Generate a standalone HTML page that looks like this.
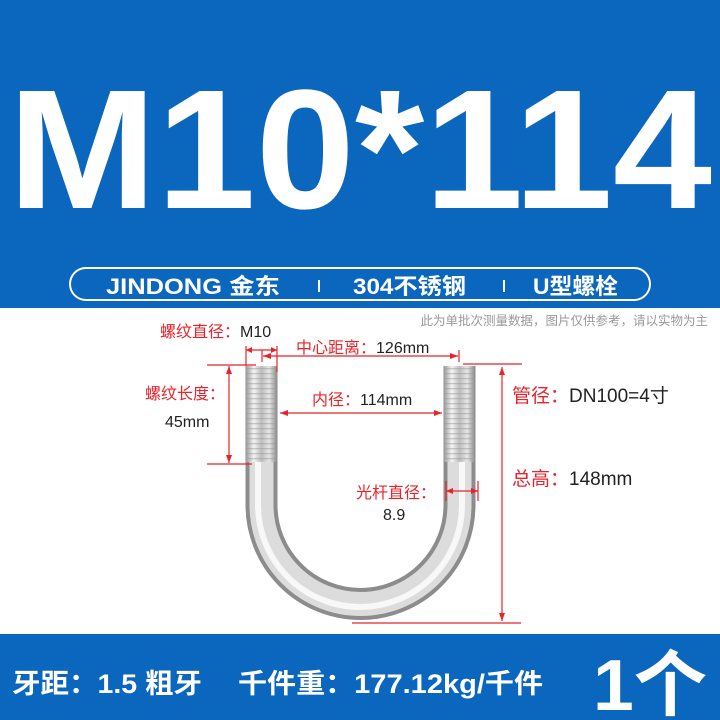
<!DOCTYPE html>
<html><head><meta charset="utf-8"><style>
html,body{margin:0;padding:0}
body{width:720px;height:720px;overflow:hidden;position:relative;background:#fff;font-family:"Liberation Sans","Noto Sans CJK SC",sans-serif}
</style></head><body>
<svg width="720" height="720" viewBox="0 0 720 720" xmlns="http://www.w3.org/2000/svg" style="position:absolute;left:0;top:0">
<defs>
<linearGradient id="rodL" x1="0" x2="1" y1="0" y2="0">
<stop offset="0" stop-color="#9a9a9a"/><stop offset="0.25" stop-color="#f4f4f4"/><stop offset="0.5" stop-color="#bdbdbd"/><stop offset="0.75" stop-color="#e6e6e6"/><stop offset="1" stop-color="#8a8a8a"/>
</linearGradient>
<pattern id="thr" width="4" height="5" patternUnits="userSpaceOnUse"><rect width="4" height="5" fill="none"/><rect y="3" width="4" height="1.3" fill="#9a9a9a" opacity="0.5"/></pattern>
</defs>
<rect x="0" y="0" width="720" height="308" fill="#0b66bd"/>
<rect x="0" y="634" width="720" height="86" fill="#0b66bd"/>
<text x="8" y="208" font-family="Liberation Sans, sans-serif" font-weight="bold" font-size="170" fill="#fff" textLength="704" lengthAdjust="spacingAndGlyphs">M10*114</text>
<rect x="70" y="268" width="580" height="32" rx="16" fill="none" stroke="#fff" stroke-width="2"/>
<g fill="#fff" font-weight="bold" font-size="22" font-family="Liberation Sans, Noto Sans CJK SC, sans-serif">
<text x="106" y="294" textLength="174" lengthAdjust="spacingAndGlyphs">JINDONG 金东</text>
<text x="353" y="294" textLength="113" lengthAdjust="spacingAndGlyphs">304不锈钢</text>
<text x="533" y="294" textLength="85" lengthAdjust="spacingAndGlyphs">U型螺栓</text>
</g>
<rect x="318" y="280" width="2" height="12" fill="#fff"/><rect x="503" y="280" width="2" height="12" fill="#fff"/>
<text x="708" y="325" font-size="12.5" fill="#999" text-anchor="end" font-family="Noto Sans CJK SC, sans-serif">此为单批次测量数据，图片仅供参考，请以实物为主</text>
<path d="M261.5 366 L261.5 505 A98.5 98.5 0 0 0 459.5 505 L459.5 366" fill="none" stroke="#8c8c8c" stroke-width="32"/>
<path d="M261.5 366 L261.5 505 A98.5 98.5 0 0 0 459.5 505 L459.5 366" fill="none" stroke="#dcdcdc" stroke-width="24"/>
<path d="M258 366 L258 505 A102 102 0 0 0 462 505 L462 366" fill="none" stroke="#f8f8f8" stroke-width="6"/>
<rect x="246" y="366" width="31" height="96" fill="url(#rodL)"/>
<rect x="246" y="366" width="31" height="96" fill="url(#thr)"/>
<rect x="444" y="366" width="31" height="96" fill="url(#rodL)"/>
<rect x="444" y="366" width="31" height="96" fill="url(#thr)"/>
<g stroke="#e8232a" stroke-width="1.2" fill="none">
<line x1="246" y1="346" x2="246" y2="366"/><line x1="277" y1="346" x2="277" y2="372"/>
<line x1="246" y1="350" x2="277" y2="350"/>
<line x1="263" y1="356" x2="458" y2="356"/><line x1="262" y1="350" x2="262" y2="362"/><line x1="459" y1="350" x2="459" y2="362"/>
<line x1="207" y1="365" x2="256" y2="365"/><line x1="207" y1="464" x2="252" y2="464"/>
<line x1="229" y1="366" x2="229" y2="463"/>
<line x1="280" y1="413" x2="442" y2="413"/>
<line x1="463" y1="364" x2="522" y2="364"/>
<line x1="502" y1="367" x2="502" y2="621"/>
<line x1="352" y1="623" x2="521" y2="623"/>
<line x1="446" y1="481" x2="446" y2="501"/><line x1="478" y1="481" x2="478" y2="501"/>
<line x1="446" y1="491" x2="478" y2="491"/>
</g>
<g fill="#e8232a">
<path d="M229 366 l-3 8 h6z"/><path d="M229 463 l-3 -8 h6z"/>
<path d="M280 413 l8 -3 v6z"/><path d="M442 413 l-8 -3 v6z"/>
<path d="M502 367 l-3 8 h6z"/><path d="M502 621 l-3 -8 h6z"/>
<path d="M263 356 l8 -3 v6z"/><path d="M458 356 l-8 -3 v6z"/>
<path d="M446 491 l7 -3 v6z"/><path d="M478 491 l-7 -3 v6z"/>
<path d="M246 350 l6 -3 v6z"/><path d="M277 350 l-6 -3 v6z"/>
</g>
<g font-size="16" font-family="Liberation Sans, Noto Sans CJK SC, sans-serif">
<text x="160" y="337" fill="#e8232a">螺纹直径：<tspan fill="#222">M10</tspan></text>
<text x="296" y="353" fill="#e8232a">中心距离：<tspan fill="#222">126mm</tspan></text>
<text x="145" y="399" fill="#e8232a">螺纹长度：</text>
<text x="165" y="427" fill="#222">45mm</text>
<text x="312" y="405" fill="#e8232a">内径：<tspan fill="#222">114mm</tspan></text>
<text x="356" y="498" fill="#e8232a">光杆直径：</text>
<text x="383" y="520" fill="#222">8.9</text>
</g>
<g font-size="19" font-family="Liberation Sans, Noto Sans CJK SC, sans-serif">
<text x="512" y="402" fill="#e8232a">管径：<tspan fill="#222">DN100=4寸</tspan></text>
<text x="512" y="485" fill="#e8232a">总高：<tspan fill="#222">148mm</tspan></text>
</g>
<g fill="#fff" font-weight="bold" font-size="27" font-family="Liberation Sans, Noto Sans CJK SC, sans-serif">
<text x="12" y="693" textLength="190" lengthAdjust="spacingAndGlyphs">牙距：1.5 粗牙</text>
<text x="238" y="693" textLength="305" lengthAdjust="spacingAndGlyphs">千件重：177.12kg/千件</text>
</g>
<text x="593" y="710" fill="#fff" font-weight="bold" font-size="72" font-family="Liberation Sans, Noto Sans CJK SC, sans-serif" textLength="114" lengthAdjust="spacingAndGlyphs">1个</text>
</svg>
</body></html>
